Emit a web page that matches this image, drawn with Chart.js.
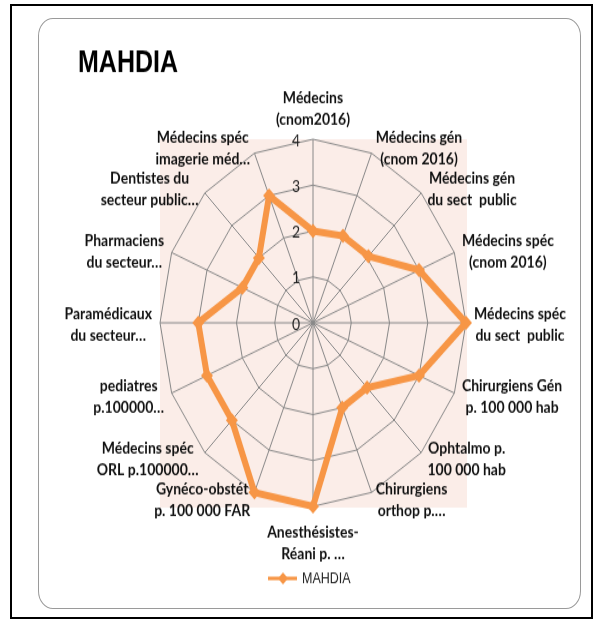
<!DOCTYPE html>
<html>
<head>
<meta charset="utf-8">
<script src="https://cdn.jsdelivr.net/npm/chart.js@4.4.0/dist/chart.umd.min.js"></script>
<style>
  body { margin: 0; background: #fff; width: 595px; height: 625px; overflow: hidden; position: relative; }
  #frame { position: absolute; left: 10px; top: 4px; width: 583px; height: 615px; border: 2px solid #000; box-sizing: border-box; }
  #box { position: absolute; left: 38px; top: 18px; width: 543px; height: 591px; border: 1px solid #9a9a9a; border-radius: 15px / 18px; box-sizing: border-box; }
  #wrap { position: absolute; left: 0; top: 0; width: 595px; height: 521px; transform: scaleY(1.2); transform-origin: 0 0; }
  #chart { position: absolute; left: 0; top: 0; }
</style>
</head>
<body>
<div id="frame"></div>
<div id="box"></div>
<div id="wrap"><canvas id="chart" width="595" height="521"></canvas></div>
<script>
// axes of the radar
var labels = [
    ["Médecins", "(cnom2016)"],
    ["Médecins gén", "(cnom 2016)"],
    ["Médecins gén", "du sect  public"],
    ["Médecins spéc", "(cnom 2016)"],
    ["Médecins spéc", "du sect  public"],
    ["Chirurgiens Gén", "p. 100 000 hab"],
    ["Ophtalmo p.", "100 000 hab"],
    ["Chirurgiens", "orthop p.…"],
    ["Anesthésistes-", "Réani p. …"],
    ["Gynéco-obstét", "p. 100 000 FAR"],
    ["Médecins spéc", "ORL p.100000…"],
    ["pediatres", "p.100000…"],
    ["Paramédicaux", "du secteur…"],
    ["Pharmaciens", "du secteur…"],
    ["Dentistes du", "secteur public…"],
    ["Médecins spéc", "imagerie méd…"]
];
var mahdia = [2, 2.05, 2.05, 3, 4, 3, 2, 2, 4, 4, 3, 3, 3, 2, 2, 3];
var tickValues = [0, 1, 2, 3, 4];
var seriesName = "MAHDIA";
var title = "MAHDIA";

var orange = "#F79646";
var gridGray = "#888888";

var plotBg = {
    id: "plotBg",
    beforeDraw: function (chart) {
        var s = chart.scales.r;
        var ctx = chart.ctx;
        var r = s.drawingArea;
        ctx.save();
        ctx.fillStyle = "#FBEDE8";
        ctx.fillRect(s.xCenter - r, s.yCenter - r, 2 * r + 1, 2 * r + 1);
        ctx.restore();
    }
};

var texts = {
    id: "texts",
    afterDraw: function (chart) {
        var s = chart.scales.r;
        var ctx = chart.ctx;
        var r = s.drawingArea;
        ctx.save();

        // tick labels, left of the vertical axis
        ctx.font = "14px Lato";
        ctx.fillStyle = "#222";
        ctx.textAlign = "right";
        ctx.textBaseline = "middle";
        tickValues.forEach(function (v) {
            var d = s.getDistanceFromCenterForValue(v);
            ctx.fillText(String(v), s.xCenter - 13, s.yCenter - d + 1);
        });

        // category labels
        ctx.font = "bold 14px Lato";
        ctx.fillStyle = "#111";
        ctx.textAlign = "center";
        var lh = 18;
        labels.forEach(function (lines, i) {
            var deg = Math.round(s.getIndexAngle(i) * 180 / Math.PI);
            var p = s.getPointPosition(i, r + 6);
            var w = Math.max.apply(null, lines.map(function (t) { return ctx.measureText(t).width; }));
            var h = lines.length * lh;
            var cx, top;
            if (deg === 0) { cx = p.x; top = p.y - h - 2; }
            else if (deg === 180) { cx = p.x; top = p.y + 6; }
            else if (deg < 180) { cx = p.x + 2 + w / 2; top = p.y - h / 2 + 1; }
            else { cx = p.x - 2 - w / 2; top = p.y - h / 2 + 1; }
            lines.forEach(function (t, k) {
                ctx.fillText(t, cx, top + lh * (k + 0.5));
            });
        });

        // title
        ctx.font = "bold 25px 'Liberation Sans'";
        ctx.fillStyle = "#000";
        ctx.textAlign = "left";
        ctx.textBaseline = "alphabetic";
        ctx.fillText(title, 78, 60);

        // legend
        var ly = 482;
        ctx.strokeStyle = orange;
        ctx.lineWidth = 3;
        ctx.beginPath();
        ctx.moveTo(268, ly);
        ctx.lineTo(297, ly);
        ctx.stroke();
        ctx.fillStyle = orange;
        ctx.beginPath();
        ctx.moveTo(283, ly - 5);
        ctx.lineTo(288, ly);
        ctx.lineTo(283, ly + 5);
        ctx.lineTo(278, ly);
        ctx.closePath();
        ctx.fill();
        ctx.font = "12.5px 'Liberation Sans'";
        ctx.fillStyle = "#222";
        ctx.textBaseline = "middle";
        ctx.fillText(seriesName, 302, ly + 1);

        ctx.restore();
    }
};

var ctx = document.getElementById("chart");
var radar = new Chart(ctx, {
    type: "radar",
    data: {
        labels: labels,
        datasets: [
            {
                label: seriesName,
                data: mahdia,
                borderColor: orange,
                backgroundColor: orange,
                borderWidth: 6,
                fill: false,
                pointStyle: "rectRot",
                pointRadius: 6,
                pointBackgroundColor: orange,
                pointBorderColor: orange,
                pointBorderWidth: 0,
            },
        ],
    },
    options: {
        responsive: false,
        animation: false,
        layout: {
            padding: { left: 160, right: 128, top: 116, bottom: 98 },
        },
        plugins: {
            legend: { display: false },
            tooltip: { enabled: false },
        },
        scales: {
            r: {
                min: 0,
                max: 4,
                ticks: { display: false, stepSize: 1 },
                pointLabels: { display: false },
                grid: { color: gridGray, lineWidth: 1 },
                angleLines: { color: gridGray, lineWidth: 1 },
            },
        },
    },
    plugins: [plotBg, texts],
});
</script>
</body>
</html>
